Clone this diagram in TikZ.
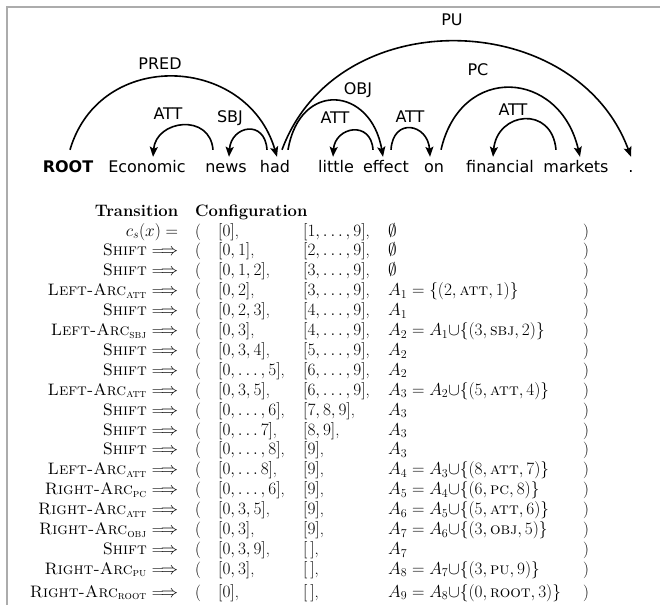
\documentclass[tikz,border=0pt]{standalone}
\usepackage{amsmath}
\usepackage{array}
\usepackage{fontspec}
\newfontfamily\treefont{DejaVu Sans}
\usetikzlibrary{arrows.meta}
\tikzset{
  word/.style={font=\treefont\fontsize{16}{18}\selectfont, anchor=base, inner sep=0pt, text height=12pt, text depth=3pt},
  lab/.style={font=\treefont\fontsize{16}{18}\selectfont, inner sep=0pt},
  dep/.style={line width=1.6pt, -{Stealth[length=10pt,width=8pt,inset=2pt]}},
  frameline/.style={draw=gray!65, line width=2pt}
}
\newcommand{\ArcA}[1]{\textsc{#1}}
\newcommand{\Imp}{\ $\Longrightarrow$}
\begin{document}
\begin{tikzpicture}[x=1pt,y=-1pt]
\useasboundingbox (0,0) rectangle (660,605);
\fill[white] (0,0) rectangle (660,605);
\draw[frameline] (7,605) -- (7,7) -- (660,7);

% words
\node[word,font=\treefont\bfseries\fontsize{16}{18}\selectfont] (w0) at (68,172) {ROOT};
\node[word] (w1) at (147,172) {Economic};
\node[word] (w2) at (226,172) {news};
\node[word] (w3) at (275,172) {had};
\node[word] (w4) at (336,172) {little};
\node[word] (w5) at (386,172) {effect};
\node[word] (w6) at (434,172) {on};
\node[word] (w7) at (500,172) {financial};
\node[word] (w8) at (576,172) {markets};
\node[word] (w9) at (631,172) {.};

% arcs
\draw[dep] ([xshift=2pt,yshift=10pt]w0.north) .. controls +(30,-102) and +(-30,-102) .. ([xshift=2pt,yshift=3pt]w3.north);
\draw[dep] ([xshift=-13pt,yshift=10pt]w2.north) .. controls +(-3,-37) and +(3,-37) .. ([xshift=6pt,yshift=3pt]w1.north);
\draw[dep] ([xshift=-8pt,yshift=10pt]w3.north) .. controls +(-2,-31) and +(2,-31) .. ([xshift=3pt,yshift=3pt]w2.north);
\draw[dep] ([xshift=13pt,yshift=10pt]w3.north) .. controls +(12,-70) and +(-12,-70) .. ([xshift=-3pt,yshift=3pt]w5.north);
\draw[dep] ([xshift=-13pt,yshift=10pt]w5.north) .. controls +(-2,-30) and +(2,-30) .. ([xshift=-3pt,yshift=3pt]w4.north);
\draw[dep] ([xshift=5pt,yshift=10pt]w5.north) .. controls +(2,-33) and +(-2,-33) .. ([xshift=-4pt,yshift=3pt]w6.north);
\draw[dep] ([xshift=7pt,yshift=10pt]w3.north) .. controls +(55,-149) and +(-55,-149) .. ([xshift=0pt,yshift=3pt]w9.north);
\draw[dep] ([xshift=7pt,yshift=10pt]w6.north) .. controls +(20,-87) and +(-20,-87) .. ([xshift=4pt,yshift=3pt]w8.north);
\draw[dep] ([xshift=-20pt,yshift=10pt]w8.north) .. controls +(-4,-45) and +(4,-45) .. ([xshift=-7pt,yshift=3pt]w7.north);

% labels
\node[lab] (lpred) at (160,64) {PRED};
\node[lab] (latta) at (168,114) {ATT};
\node[lab] (lsbj) at (230,118) {SBJ};
\node[lab] (lobj) at (358,90) {OBJ};
\node[lab] (lattb) at (335,118) {ATT};
\node[lab] (lattc) at (410,117) {ATT};
\node[lab] (lpu) at (452,20) {PU};
\node[lab] (lpc) at (478,70) {PC};
\node[lab] (lattd) at (513,110) {ATT};

% table
\node[anchor=north west, inner sep=0pt, font=\fontsize{16.6}{19.9}\selectfont] (tab) at (18,202) {%
\begin{tabular}{@{}w{r}{160pt}@{\hspace{17pt}}w{l}{23pt}@{}w{l}{85pt}@{}w{l}{85pt}@{}w{l}{195pt}@{}l@{}}
\textbf{Transition} & \multicolumn{5}{@{}l@{}}{\textbf{Configuration}} \\
$c_s(x) =$ & ( & $[0]$, & $[1,\ldots,9]$, & $\emptyset$ & ) \\
\textsc{Shift}\Imp & ( & $[0,1]$, & $[2,\ldots,9]$, & $\emptyset$ & ) \\
\textsc{Shift}\Imp & ( & $[0,1,2]$, & $[3,\ldots,9]$, & $\emptyset$ & ) \\
\textsc{Left-Arc}$_{\textsc{att}}$\Imp & ( & $[0,2]$, & $[3,\ldots,9]$, & $A_1 = \{(2,\ArcA{att},1)\}$ & ) \\
\textsc{Shift}\Imp & ( & $[0,2,3]$, & $[4,\ldots,9]$, & $A_1$ & ) \\
\textsc{Left-Arc}$_{\textsc{sbj}}$\Imp & ( & $[0,3]$, & $[4,\ldots,9]$, & $A_2 = A_1{\cup}\{(3,\ArcA{sbj},2)\}$ & ) \\
\textsc{Shift}\Imp & ( & $[0,3,4]$, & $[5,\ldots,9]$, & $A_2$ & ) \\
\textsc{Shift}\Imp & ( & $[0,\ldots,5]$, & $[6,\ldots,9]$, & $A_2$ & ) \\
\textsc{Left-Arc}$_{\textsc{att}}$\Imp & ( & $[0,3,5]$, & $[6,\ldots,9]$, & $A_3 = A_2{\cup}\{(5,\ArcA{att},4)\}$ & ) \\
\textsc{Shift}\Imp & ( & $[0,\ldots,6]$, & $[7,8,9]$, & $A_3$ & ) \\
\textsc{Shift}\Imp & ( & $[0,\ldots 7]$, & $[8,9]$, & $A_3$ & ) \\
\textsc{Shift}\Imp & ( & $[0,\ldots,8]$, & $[9]$, & $A_3$ & ) \\
\textsc{Left-Arc}$_{\textsc{att}}$\Imp & ( & $[0,\ldots 8]$, & $[9]$, & $A_4 = A_3{\cup}\{(8,\ArcA{att},7)\}$ & ) \\
\textsc{Right-Arc}$_{\textsc{pc}}$\Imp & ( & $[0,\ldots,6]$, & $[9]$, & $A_5 = A_4{\cup}\{(6,\ArcA{pc},8)\}$ & ) \\
\textsc{Right-Arc}$_{\textsc{att}}$\Imp & ( & $[0,3,5]$, & $[9]$, & $A_6 = A_5{\cup}\{(5,\ArcA{att},6)\}$ & ) \\
\textsc{Right-Arc}$_{\textsc{obj}}$\Imp & ( & $[0,3]$, & $[9]$, & $A_7 = A_6{\cup}\{(3,\ArcA{obj},5)\}$ & ) \\
\textsc{Shift}\Imp & ( & $[0,3,9]$, & $[\,]$, & $A_7$ & ) \\
\textsc{Right-Arc}$_{\textsc{pu}}$\Imp & ( & $[0,3]$, & $[\,]$, & $A_8 = A_7{\cup}\{(3,\ArcA{pu},9)\}$ & ) \\[3pt]
\textsc{Right-Arc}$_{\textsc{root}}$\Imp & ( & $[0]$, & $[\,]$, & $A_9 = A_8{\cup}\{(0,\ArcA{root},3)\}$ & )
\end{tabular}};
\end{tikzpicture}
\end{document}
